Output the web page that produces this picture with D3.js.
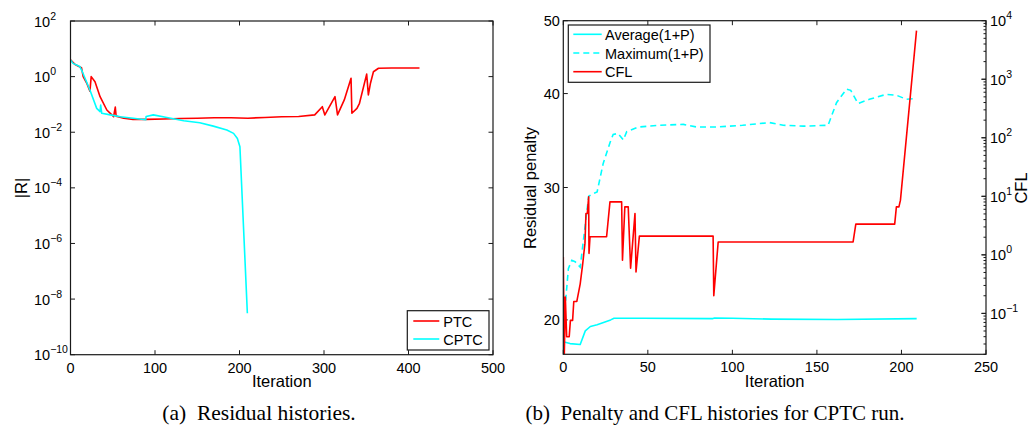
<!DOCTYPE html>
<html><head><meta charset="utf-8">
<script src="https://cdn.jsdelivr.net/npm/d3@7"></script>
<style>
body{margin:0;background:#fff;}
svg{display:block;font-family:"Liberation Sans",Arial,sans-serif;}
</style></head>
<body><svg id="c" width="1029" height="434"></svg>
<script>
// ---------- Data: (a) residual histories ----------
const ptcIter = [0,5,10,13,15,19,23,24.5,29,35,43,48,51,53,54,63,74,90,110,130,150,170,190,210,230,250,270,289,298,301,313,316,324,332,333,339,342,350.5,352.5,355,358.5,364.5,380,413];
const ptcRes  = [4.0,2.8,2.3,2.1,1.0,0.6,0.3,1.0,0.65,0.19,0.063,0.045,0.036,0.08,0.038,0.032,0.029,0.029,0.030,0.031,0.032,0.033,0.033,0.032,0.034,0.036,0.037,0.042,0.083,0.042,0.19,0.042,0.145,0.87,0.048,0.072,0.11,1.23,0.22,0.58,1.5,2.0,2.05,2.05];
const cptcIter = [0,3,11,14,23,31,35,35.7,37,47,59,74,89,89.5,98,114,134,153,169,185,193,197.5,200.5,209.3];
const cptcRes  = [4.0,3.0,2.3,1.5,0.33,0.072,0.055,0.095,0.048,0.042,0.036,0.032,0.028,0.037,0.042,0.034,0.026,0.022,0.0166,0.012,0.0091,0.006,0.003,3.1e-9];
const resTicksX = [0,100,200,300,400,500];
const resTicksY = [-10,-8,-6,-4,-2,0,2];   // exponents
const legendA = ["PTC","CPTC"];

// ---------- Data: (b) penalty and CFL ----------
const avgIter = [0,4,10,13,16,20,28,30,47,88.5,89.5,100,123,162,209];
const avgPen  = [18.7,18.6,18.55,19.34,19.6,19.7,20.0,20.1,20.1,20.08,20.12,20.1,20.05,20.02,20.08];
const maxIter = [0,1,3,5,7,10,15,17,20,23.6,27.6,29.5,32.4,35.5,37.5,44.3,57,71,79,90.5,106,122,130,142,156.6,161.6,167.5,170,174.3,181,191,197,203,209];
const maxPen  = [18.2,20.7,23.4,24.0,23.9,23.5,29.2,29.4,29.6,32.3,34.4,35.3,35.4,34.7,35.6,36.1,36.3,36.4,36.1,36.1,36.3,36.6,36.3,36.2,36.3,38.9,40.55,40.4,38.8,39.3,39.9,39.8,39.3,39.4];
const cflIter = [0,0.6,1.2,2,3.5,4.2,5.5,6.2,8,10,11.5,12.8,13.4,14.2,15,15.2,15.8,25.6,27.6,34.5,35,36.4,38.4,39.8,42.4,43,45,88.6,89,91.6,171.4,173,196,197,198.5,199.4,208.9];
const cflVal  = [0.92,0.0204,0.19,0.04,0.04,0.076,0.076,0.16,0.16,0.32,0.71,1.57,5.1,5.1,9.8,1.06,2.04,2.04,8.05,8.05,0.81,6.6,6.6,0.59,5.1,0.51,2.09,2.09,0.2,1.66,1.66,3.35,3.35,6.6,6.6,8.6,6760];
const penTicksX = [0,50,100,150,200,250];
const penTicksY = [20,30,40,50];
const cflTicksY = [-1,0,1,2,3,4];  // exponents
const legendB = ["Average(1+P)","Maximum(1+P)","CFL"];

const captions = ["(a)  Residual histories.","(b)  Penalty and CFL histories for CPTC run."];

const RED = "#ff0000", CYAN = "#00ffff", AX = "#1a1a1a";
const svg = d3.select("#c");

function supLabel(g, x, y, exp, anchor){
  const t = g.append("text").attr("x", x).attr("y", y).attr("text-anchor", anchor||"start")
    .attr("font-size", 14.5).attr("fill", "#000");
  t.append("tspan").text("10");
  t.append("tspan").attr("dy", -7).attr("font-size", 10.5).text(exp < 0 ? "\u2212" + (-exp) : String(exp));
}

function frame(g, x0, x1, y0, y1){
  g.append("rect").attr("x", x0).attr("y", y0).attr("width", x1 - x0).attr("height", y1 - y0)
    .attr("fill", "none").attr("stroke", AX).attr("stroke-width", 1.2);
}

// ================= (a) =================
{
  const x0 = 70.5, x1 = 493, yT = 21, yB = 354.7;
  const x = d3.scaleLinear().domain([0, 500]).range([x0, x1]);
  const y = d3.scaleLog().domain([1e-10, 1e2]).range([yB, yT]);
  const g = svg.append("g");
  const tl = 4.5;
  resTicksX.forEach(v => {
    g.append("line").attr("x1", x(v)).attr("x2", x(v)).attr("y1", yB).attr("y2", yB - tl).attr("stroke", AX);
    g.append("line").attr("x1", x(v)).attr("x2", x(v)).attr("y1", yT).attr("y2", yT + tl).attr("stroke", AX);
    g.append("text").attr("x", x(v)).attr("y", yB + 18).attr("text-anchor", "middle").attr("font-size", 14.5).text(v);
  });
  resTicksY.forEach(e => {
    const yy = y(Math.pow(10, e));
    g.append("line").attr("x1", x0).attr("x2", x0 + tl).attr("y1", yy).attr("y2", yy).attr("stroke", AX);
    g.append("line").attr("x1", x1).attr("x2", x1 - tl).attr("y1", yy).attr("y2", yy).attr("stroke", AX);
    supLabel(g, 34, yy + 5.5, e);
  });
  const line = d3.line().x(d => x(d[0])).y(d => y(d[1]));
  g.append("path").datum(d3.zip(ptcIter, ptcRes)).attr("d", line).attr("fill", "none")
    .attr("stroke", RED).attr("stroke-width", 1.6).attr("stroke-linejoin", "round");
  g.append("path").datum(d3.zip(cptcIter, cptcRes)).attr("d", line).attr("fill", "none")
    .attr("stroke", CYAN).attr("stroke-width", 1.6).attr("stroke-linejoin", "round");
  frame(g, x0, x1, yT, yB);
  g.append("text").attr("x", (x0 + x1) / 2).attr("y", 387).attr("text-anchor", "middle").attr("font-size", 16.5).text("Iteration");
  g.append("text").attr("transform", "translate(27,188) rotate(-90)").attr("text-anchor", "middle").attr("font-size", 16.5).text("|R|");
  // legend
  const lg = g.append("g");
  lg.append("rect").attr("x", 407.3).attr("y", 310.7).attr("width", 81.7).attr("height", 39.3)
    .attr("fill", "#fff").attr("stroke", AX).attr("stroke-width", 1.2);
  [RED, CYAN].forEach((c, i) => {
    const yy = 321 + i * 18;
    lg.append("line").attr("x1", 413.3).attr("x2", 439.3).attr("y1", yy).attr("y2", yy).attr("stroke", c).attr("stroke-width", 1.6);
    lg.append("text").attr("x", 443.3).attr("y", yy + 5.5).attr("font-size", 14.5).text(legendA[i]);
  });
}

// ================= (b) =================
{
  const x0 = 563.3, x1 = 986, yT = 20.7, yB = 354.3;
  const x = d3.scaleLinear().domain([0, 250]).range([x0, x1]);
  const yP = d3.scaleLog().domain([18, 50]).range([yB, yT]);
  const yC = d3.scaleLog().domain([0.02, 1e4]).range([yB, yT]);
  const g = svg.append("g");
  const tl = 4.5;
  penTicksX.forEach(v => {
    g.append("line").attr("x1", x(v)).attr("x2", x(v)).attr("y1", yB).attr("y2", yB - tl).attr("stroke", AX);
    g.append("line").attr("x1", x(v)).attr("x2", x(v)).attr("y1", yT).attr("y2", yT + tl).attr("stroke", AX);
    g.append("text").attr("x", x(v)).attr("y", yB + 18).attr("text-anchor", "middle").attr("font-size", 14.5).text(v);
  });
  penTicksY.forEach(v => {
    const yy = yP(v);
    g.append("line").attr("x1", x0).attr("x2", x0 + tl).attr("y1", yy).attr("y2", yy).attr("stroke", AX);
    g.append("text").attr("x", x0 - 3.5).attr("y", yy + 5.5).attr("text-anchor", "end").attr("font-size", 14.5).text(v);
  });
  // right log axis with minor ticks
  for (let e = -2; e <= 3; e++) {
    for (let m = 1; m <= 9; m++) {
      const v = m * Math.pow(10, e);
      if (v < 0.02 || v > 1e4) continue;
      const yy = yC(v);
      const len = m === 1 ? tl : 2.5;
      g.append("line").attr("x1", x1).attr("x2", x1 - len).attr("y1", yy).attr("y2", yy).attr("stroke", AX);
    }
  }
  cflTicksY.forEach(e => {
    const yy = yC(Math.pow(10, e));
    g.append("line").attr("x1", x1).attr("x2", x1 - tl).attr("y1", yy).attr("y2", yy).attr("stroke", AX);
    supLabel(g, 990, yy + 5.5, e);
  });
  const lineP = d3.line().x(d => x(d[0])).y(d => yP(d[1]));
  const lineC = d3.line().x(d => x(d[0])).y(d => yC(d[1]));
  const clipId = "clipB";
  svg.append("clipPath").attr("id", clipId).append("rect").attr("x", x0).attr("y", yT).attr("width", x1 - x0).attr("height", yB - yT);
  const pg = g.append("g").attr("clip-path", "url(#" + clipId + ")");
  pg.append("path").datum(d3.zip(avgIter, avgPen)).attr("d", lineP).attr("fill", "none")
    .attr("stroke", CYAN).attr("stroke-width", 1.6).attr("stroke-linejoin", "round");
  pg.append("path").datum(d3.zip(maxIter, maxPen)).attr("d", lineP).attr("fill", "none")
    .attr("stroke", CYAN).attr("stroke-width", 1.6).attr("stroke-dasharray", "6,4");
  pg.append("path").datum(d3.zip(cflIter, cflVal)).attr("d", lineC).attr("fill", "none")
    .attr("stroke", RED).attr("stroke-width", 1.6).attr("stroke-linejoin", "round");
  frame(g, x0, x1, yT, yB);
  g.append("text").attr("x", (x0 + x1) / 2).attr("y", 387).attr("text-anchor", "middle").attr("font-size", 16.5).text("Iteration");
  g.append("text").attr("transform", "translate(536,188) rotate(-90)").attr("text-anchor", "middle").attr("font-size", 16.5).text("Residual penalty");
  g.append("text").attr("transform", "translate(1027,188) rotate(-90)").attr("text-anchor", "middle").attr("font-size", 16.5).text("CFL");
  // legend
  const lg = g.append("g");
  lg.append("rect").attr("x", 568.3).attr("y", 25).attr("width", 141.7).attr("height", 57.3)
    .attr("fill", "#fff").attr("stroke", AX).attr("stroke-width", 1.2);
  const styles = [[CYAN, null], [CYAN, "6,4"], [RED, null]];
  styles.forEach((s, i) => {
    const yy = 34.3 + i * 18.7;
    const l = lg.append("line").attr("x1", 573.3).attr("x2", 601.7).attr("y1", yy).attr("y2", yy).attr("stroke", s[0]).attr("stroke-width", 1.6);
    if (s[1]) l.attr("stroke-dasharray", s[1]);
    lg.append("text").attr("x", 605).attr("y", yy + 5.5).attr("font-size", 14.5).text(legendB[i]);
  });
}

// captions
svg.append("text").attr("x", 259).attr("y", 420).attr("text-anchor", "middle")
  .attr("font-family", "'Liberation Serif','Times New Roman',serif").attr("font-size", 21.5).style("white-space", "pre").text(captions[0]);
svg.append("text").attr("x", 715).attr("y", 420).attr("text-anchor", "middle")
  .attr("font-family", "'Liberation Serif','Times New Roman',serif").attr("font-size", 21).style("white-space", "pre").text(captions[1]);
</script>
</body></html>
